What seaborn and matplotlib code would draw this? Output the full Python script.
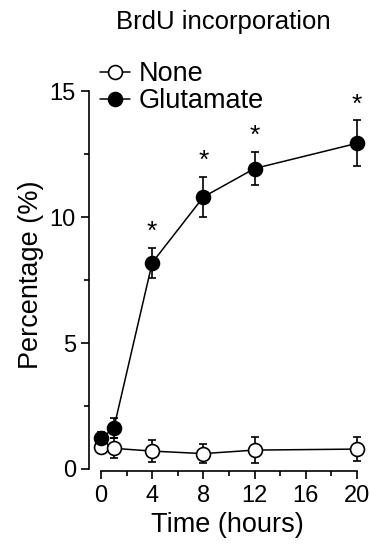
import numpy as np
import pandas as pd
import seaborn as sns
import matplotlib
matplotlib.use("Agg")
import matplotlib.pyplot as plt

# values
time_h = [0, 1, 4, 8, 12, 20]
none_mean = [0.88, 0.82, 0.71, 0.61, 0.75, 0.79]
none_err = [0.25, 0.4, 0.45, 0.38, 0.5, 0.48]
glu_mean = [1.22, 1.62, 8.19, 10.8, 11.93, 12.93]
glu_err = [0.25, 0.4, 0.6, 0.8, 0.65, 0.92]
sig_times = [4, 8, 12, 20]

df = pd.DataFrame({
    "time": time_h * 2,
    "pct": none_mean + glu_mean,
    "err": none_err + glu_err,
    "group": ["None"] * len(time_h) + ["Glutamate"] * len(time_h),
})

sns.set_style("ticks")
plt.rcParams["font.family"] = ["Liberation Sans", "DejaVu Sans"]
for k in ["text.color", "axes.labelcolor", "xtick.color", "ytick.color",
          "axes.edgecolor"]:
    plt.rcParams[k] = "black"

fig = plt.figure(figsize=(3.7, 5.48), dpi=100)
ax = fig.add_axes([0.2405, 0.1396, 0.7486, 0.717])

none_df = df[df["group"] == "None"]
glu_df = df[df["group"] == "Glutamate"]

# error bars behind the markers
ax.errorbar(none_df["time"], none_df["pct"], yerr=none_df["err"], fmt="none",
            ecolor="black", elinewidth=1.2, capsize=3, capthick=1.2, zorder=1)
ax.errorbar(glu_df["time"], glu_df["pct"], yerr=glu_df["err"], fmt="none",
            ecolor="black", elinewidth=1.2, capsize=3, capthick=1.2, zorder=1)

sns.lineplot(data=none_df, x="time", y="pct", ax=ax, color="black", lw=1.1,
             marker="o", markersize=10, markerfacecolor="white",
             markeredgecolor="black", markeredgewidth=1.2, label="None", zorder=2)
sns.lineplot(data=glu_df, x="time", y="pct", ax=ax, color="black", lw=1.1,
             marker="o", markersize=10, markerfacecolor="black",
             markeredgecolor="black", markeredgewidth=1.2, label="Glutamate", zorder=3)

# significance stars
for t in sig_times:
    row = glu_df[glu_df["time"] == t].iloc[0]
    ax.text(t, row["pct"] + row["err"] + 0.15, "*", ha="center", va="bottom",
            fontsize=19)

ax.set_xlim(-0.94, 20.7)
ax.set_ylim(-0.1, 15.5)
ax.set_xticks([0, 4, 8, 12, 16, 20])
ax.set_xticks(np.arange(0, 21, 2), minor=True)
ax.set_yticks([0, 5, 10, 15])
ax.set_yticks([2.5, 7.5, 12.5], minor=True)
ax.spines["left"].set_bounds(0, 15)
ax.spines["bottom"].set_bounds(0, 20)
sns.despine(ax=ax)
for s in ["left", "bottom"]:
    ax.spines[s].set_linewidth(1.2)
ax.tick_params(axis="both", which="major", length=6, width=1.2, labelsize=17,
               colors="black")
ax.tick_params(axis="both", which="minor", length=3.5, width=1.2, colors="black")

ax.set_xlabel("Time (hours)", fontsize=19.5, color="black")
ax.set_ylabel("Percentage (%)", fontsize=19.5, labelpad=4, color="black")

fig.text(223 / 370, 1 - 22 / 548, "BrdU incorporation", ha="center",
         va="center", fontsize=18.5, color="black")

ax.legend(loc="upper left", bbox_to_anchor=(100 / 370, 1 - 61 / 548),
          bbox_transform=fig.transFigure, frameon=False, fontsize=19.5,
          handlelength=1.1, handletextpad=0.33, labelspacing=0.05,
          borderpad=0, borderaxespad=0)

fig.savefig("out.png", dpi=100)
